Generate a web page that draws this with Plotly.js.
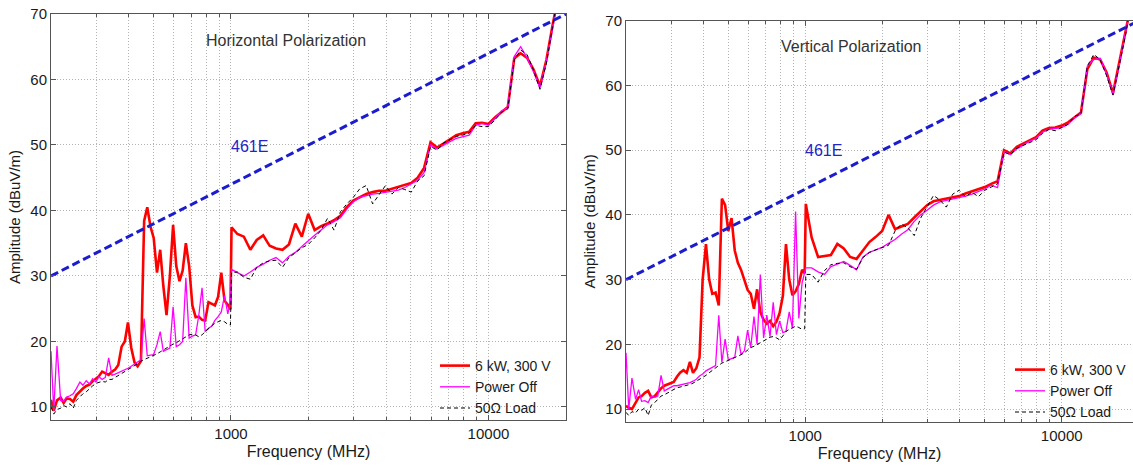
<!DOCTYPE html>
<html>
<head>
<meta charset="utf-8">
<script src="https://cdn.plot.ly/plotly-3.0.1.min.js"></script>
<style>
  html, body { margin: 0; padding: 0; background: #fff; }
  #chart { width: 1133px; height: 466px; }
</style>
</head>
<body>
<div id="chart"></div>
<script>
// ---------------- data ----------------
const FREQ_MHZ = [
  200,205,211,218,224,230,237,244,251,259,266,274,282,290,299,307,316,325,335,345,
  355,365,376,387,398,410,422,434,447,460,473,487,501,516,531,546,562,579,596,613,
  631,649,668,688,708,729,750,772,794,818,841,866,891,917,944,972,995,1005,
  1059,1122,1189,1259,1334,1413,1496,1585,1679,1778,1884,1995,2113,2239,2371,2512,
  2661,2818,2985,3162,3350,3548,3758,3981,4217,4467,4732,5012,5309,5623,5957,6310,
  6683,7079,7499,7943,8414,8913,9441,10000,10593,11220,11885,12589,13335,14125,14962,
  15849,16788,17783,18197
];

// Horizontal polarization
const H_6KW = [
  11.1,9.4,11.0,11.4,10.6,11.3,11.2,10.8,11.8,12.4,
  12.8,13.2,13.4,13.9,14.4,14.7,15.4,15.1,14.9,15.4,
  15.7,16.4,19.2,20.0,22.9,19.0,16.8,16.2,17.0,38.4,
  40.5,37.5,35.8,30.5,34.0,28.5,24.0,30.0,37.8,31.5,
  29.2,30.8,35.0,31.5,25.5,23.7,23.8,23.3,23.2,26.0,
  25.8,25.5,26.8,30.5,26.2,25.6,24.9,37.4,
  36.4,36.0,34.0,35.5,36.2,34.6,34.2,34.0,34.8,38.0,
  36.0,39.5,37.0,37.6,38.0,38.5,39.2,40.5,41.5,42.0,
  42.5,42.8,43.0,43.0,43.3,43.5,43.8,44.2,45.0,46.5,
  50.4,49.6,50.2,50.8,51.5,51.8,52.0,53.3,53.4,53.2,
  54.2,55.0,55.8,63.2,64.0,63.3,61.5,59.0,63.0,68.5,
  70.5
];
const H_OFF = [
  18.5,9.4,19.3,11.0,10.9,11.5,11.7,12.0,12.8,13.8,
  13.3,14.0,13.5,14.3,13.8,14.6,14.2,14.5,17.5,14.8,
  15.0,15.2,15.4,15.6,15.9,16.2,16.5,16.9,17.2,23.5,
  17.8,17.9,18.0,19.5,21.5,18.5,18.7,19.0,25.3,19.2,
  19.5,20.0,29.7,20.5,20.8,21.0,24.0,28.2,21.5,22.0,
  22.3,23.2,23.8,24.5,27.0,24.2,26.0,31.0,
  30.5,30.0,30.6,31.3,31.8,32.4,32.8,32.0,33.0,33.6,
  34.5,35.4,36.2,37.0,37.8,38.3,38.9,40.2,41.3,42.0,
  42.3,42.5,42.6,42.8,43.0,43.1,43.5,44.0,44.6,45.8,
  50.0,49.4,50.0,50.5,51.0,51.3,51.5,53.0,53.3,53.0,
  54.0,55.2,55.7,63.5,65.0,63.3,61.2,58.7,62.8,68.0,
  70.5
];
const H_LOAD = [
  10.0,8.9,9.6,9.8,10.2,10.0,10.5,9.8,11.0,11.5,
  12.0,12.3,12.8,13.2,13.6,13.7,13.9,13.8,14.2,14.2,
  14.5,14.7,15.0,15.3,15.6,16.0,16.3,16.6,17.0,17.2,
  17.4,17.6,17.8,18.1,18.4,18.7,19.0,19.3,19.6,19.8,
  20.1,20.4,20.7,21.0,21.1,21.0,20.7,21.0,21.5,22.0,
  22.4,22.8,23.0,23.2,23.0,22.6,22.5,30.5,
  30.6,29.8,29.5,31.3,32.0,32.3,32.4,31.3,32.8,33.5,
  34.3,34.8,35.8,37.0,38.8,37.0,39.8,41.0,42.0,43.3,
  43.8,41.0,42.5,43.8,42.5,43.5,43.2,42.8,44.5,45.3,
  49.8,49.2,50.3,50.8,51.3,51.5,51.8,53.0,52.8,52.8,
  53.8,55.0,55.5,63.0,64.5,63.8,61.4,58.5,62.5,68.3,
  70.5
];

// Vertical polarization
const V_6KW = [
  10.5,10.2,10.0,11.0,11.8,12.0,12.5,12.8,11.8,12.0,
  12.6,13.2,13.6,13.8,14.0,14.2,15.0,15.6,16.0,15.6,
  17.3,15.6,16.3,18.0,30.0,35.5,30.0,27.8,28.0,26.0,
  42.5,41.5,37.5,39.5,34.5,32.6,31.5,30.0,28.4,27.8,
  25.5,28.5,25.0,23.8,23.2,23.6,22.8,23.5,24.8,27.5,
  35.5,30.0,27.6,28.2,29.3,31.5,31.0,41.7,
  36.5,33.5,33.7,33.8,35.5,34.8,33.5,33.2,34.5,35.8,
  36.6,37.5,40.0,37.8,38.2,38.6,39.6,40.6,41.5,42.1,
  42.3,42.4,42.6,42.9,43.3,43.6,43.9,44.3,44.8,45.2,
  50.0,49.5,50.5,51.0,51.6,52.0,53.0,53.4,53.5,53.8,
  54.3,55.0,55.8,62.5,64.3,64.0,62.0,58.8,63.5,68.5,
  70.5
];
const V_OFF = [
  18.7,10.0,14.8,11.5,13.0,11.2,11.3,11.0,12.0,11.8,
  12.0,15.2,12.8,13.1,13.3,13.6,13.6,13.7,13.8,13.9,
  14.1,14.3,14.6,15.1,15.4,15.9,16.2,16.4,16.7,24.5,
  17.2,20.8,17.6,17.8,18.0,21.3,18.4,19.0,22.2,19.5,
  24.3,20.0,30.8,21.0,24.5,21.2,26.5,21.5,23.6,21.8,
  22.0,25.0,22.5,40.5,24.0,29.5,31.0,31.8,
  31.8,31.2,30.8,32.0,32.4,32.8,32.2,31.5,33.5,34.2,
  34.6,35.0,35.6,36.2,37.0,37.7,39.0,40.0,40.7,41.5,
  42.0,42.2,42.4,42.6,42.9,43.2,43.6,44.0,44.6,44.2,
  49.8,49.3,50.2,50.8,51.4,51.8,52.8,53.2,53.3,53.5,
  54.0,55.0,55.6,63.0,64.0,64.2,61.8,58.6,63.2,68.2,
  70.5
];
const V_LOAD = [
  9.5,9.0,9.6,9.4,10.0,9.8,10.2,9.0,10.6,11.0,
  11.5,12.0,12.2,12.5,12.8,13.1,13.3,13.4,13.5,13.6,
  13.8,14.0,14.3,14.6,14.9,15.2,15.6,16.0,16.4,16.8,
  17.1,17.3,17.5,17.8,18.0,18.2,18.4,18.7,19.1,19.5,
  19.7,20.0,20.3,20.5,20.8,21.1,21.2,21.0,20.7,21.3,
  22.0,22.3,22.6,22.8,22.6,22.3,22.4,30.8,
  30.8,29.6,31.4,32.3,32.5,32.6,32.0,31.6,33.4,34.2,
  34.6,35.0,35.3,37.5,38.6,38.0,36.8,39.5,41.2,43.0,
  42.3,41.2,43.2,43.8,42.8,43.5,42.8,43.8,44.3,44.8,
  49.7,49.3,50.3,50.7,51.2,51.6,52.6,53.2,53.0,53.5,
  54.0,55.2,55.6,63.0,64.8,64.0,61.5,58.5,63.0,68.0,
  70.5
];

// Limit line (MIL-STD-461E)
const LIMIT_FREQ = [200, 20000];
const LIMIT_DB = [30, 70];
const LIMIT_LABEL = '461E';

const SERIES_NAMES = ['6 kW, 300 V', 'Power Off', '50\u03A9 Load'];
const PANEL_TITLES = ['Horizontal Polarization', 'Vertical Polarization'];
const X_TICK_VALS = [1000, 10000];
const X_TICK_TEXT = ['1000', '10000'];
const X_MINOR_VALS = [200,300,400,500,600,700,800,900,2000,3000,4000,5000,6000,7000,8000,9000,20000];
const Y_TICK_VALS = [10, 20, 30, 40, 50, 60, 70];
const X_TITLE = 'Frequency (MHz)';
const Y_TITLE = 'Amplitude (dBuV/m)';

// ---------------- styling ----------------
const FONT = 'Arial, "Liberation Sans", Helvetica, sans-serif';
const TXT = '#1a1a1a';
const GRID = '#b4b4b4';
const GRID_DASH = '1px,2px';
const AX = '#555555';

function seriesTraces(xa, ya, leg, red, off, load) {
  return [
    {x: FREQ_MHZ, y: red, xaxis: xa, yaxis: ya, legend: leg, name: SERIES_NAMES[0],
     type: 'scatter', mode: 'lines', line: {color: '#ff0000', width: 2.6}},
    {x: FREQ_MHZ, y: off, xaxis: xa, yaxis: ya, legend: leg, name: SERIES_NAMES[1],
     type: 'scatter', mode: 'lines', line: {color: '#ff00ff', width: 1.3}},
    {x: FREQ_MHZ, y: load, xaxis: xa, yaxis: ya, legend: leg, name: SERIES_NAMES[2],
     type: 'scatter', mode: 'lines', line: {color: '#000000', width: 1, dash: '4px,3px'}},
    {x: LIMIT_FREQ, y: LIMIT_DB, xaxis: xa, yaxis: ya, showlegend: false, hoverinfo: 'skip',
     type: 'scatter', mode: 'lines', line: {color: '#1c1ccf', width: 3, dash: '8px,4px'}}
  ];
}

const data = [].concat(
  seriesTraces('x', 'y', 'legend', H_6KW, H_OFF, H_LOAD),
  seriesTraces('x2', 'y2', 'legend2', V_6KW, V_OFF, V_LOAD)
);

function xAxis(domain, range, anchor) {
  return {
    type: 'log', domain: domain, range: range, anchor: anchor,
    tickmode: 'array', tickvals: X_TICK_VALS, ticktext: X_TICK_TEXT,
    ticks: 'inside', ticklen: 5, tickcolor: AX,
    showline: true, linecolor: AX, linewidth: 1, mirror: 'ticks',
    showgrid: true, gridcolor: GRID, griddash: GRID_DASH, gridwidth: 1,
    minor: {tickmode: 'array', tickvals: X_MINOR_VALS, ticks: 'inside', ticklen: 3,
            tickcolor: AX, showgrid: true, gridcolor: GRID, griddash: GRID_DASH, gridwidth: 1},
    zeroline: false, automargin: false,
    tickfont: {family: FONT, size: 15, color: TXT},
    title: {text: X_TITLE, font: {family: FONT, size: 16, color: TXT}, standoff: 4}
  };
}
function yAxis(domain, anchor, mirror) {
  return {
    domain: domain, range: [8, 70], anchor: anchor,
    tickmode: 'array', tickvals: Y_TICK_VALS,
    ticks: 'inside', ticklen: 5, tickcolor: AX,
    showline: true, linecolor: AX, linewidth: 1, mirror: mirror,
    showgrid: true, gridcolor: GRID, griddash: GRID_DASH, gridwidth: 1,
    zeroline: false, automargin: false,
    tickfont: {family: FONT, size: 15, color: TXT},
    title: {text: Y_TITLE, font: {family: FONT, size: 15, color: TXT}, standoff: 6}
  };
}

const W = 1133, H = 466;
const LEGEND_FONT = {family: FONT, size: 14, color: TXT};
const layout = {
  width: W, height: H,
  margin: {l: 0, r: 0, t: 0, b: 0},
  paper_bgcolor: '#ffffff', plot_bgcolor: '#ffffff',
  font: {family: FONT, color: TXT},
  showlegend: true,
  xaxis: xAxis([51 / W, 566 / W], [Math.log10(200), Math.log10(20000)], 'y'),
  yaxis: yAxis([(H - 420) / H, (H - 14) / H], 'x', 'ticks'),
  xaxis2: xAxis([626 / W, 1], [Math.log10(200), 4.278], 'y2'),
  yaxis2: yAxis([(H - 422) / H, (H - 20.7) / H], 'x2', false),
  legend: {x: 435 / W, xanchor: 'left', y: (H - 350) / H, yanchor: 'top',
           bgcolor: 'rgba(0,0,0,0)', borderwidth: 0, itemwidth: 30,
           font: LEGEND_FONT, tracegroupgap: 0},
  legend2: {x: 1010 / W, xanchor: 'left', y: (H - 354) / H, yanchor: 'top',
            bgcolor: 'rgba(0,0,0,0)', borderwidth: 0, itemwidth: 30,
            font: LEGEND_FONT, tracegroupgap: 0},
  annotations: [
    {xref: 'x', yref: 'y', x: Math.log10(1636), y: 65.9, text: PANEL_TITLES[0], showarrow: false,
     font: {family: FONT, size: 16, color: '#333333'}},
    {xref: 'x2', yref: 'y2', x: Math.log10(1521), y: 66.0, text: PANEL_TITLES[1], showarrow: false,
     font: {family: FONT, size: 16, color: '#333333'}},
    {xref: 'x', yref: 'y', x: Math.log10(1179), y: 49.8, text: LIMIT_LABEL, showarrow: false,
     font: {family: FONT, size: 16, color: '#2323c8'}},
    {xref: 'x2', yref: 'y2', x: Math.log10(1175), y: 49.9, text: LIMIT_LABEL, showarrow: false,
     font: {family: FONT, size: 16, color: '#2323c8'}}
  ]
};

Plotly.newPlot('chart', data, layout, {displayModeBar: false, staticPlot: true});
</script>
</body>
</html>
